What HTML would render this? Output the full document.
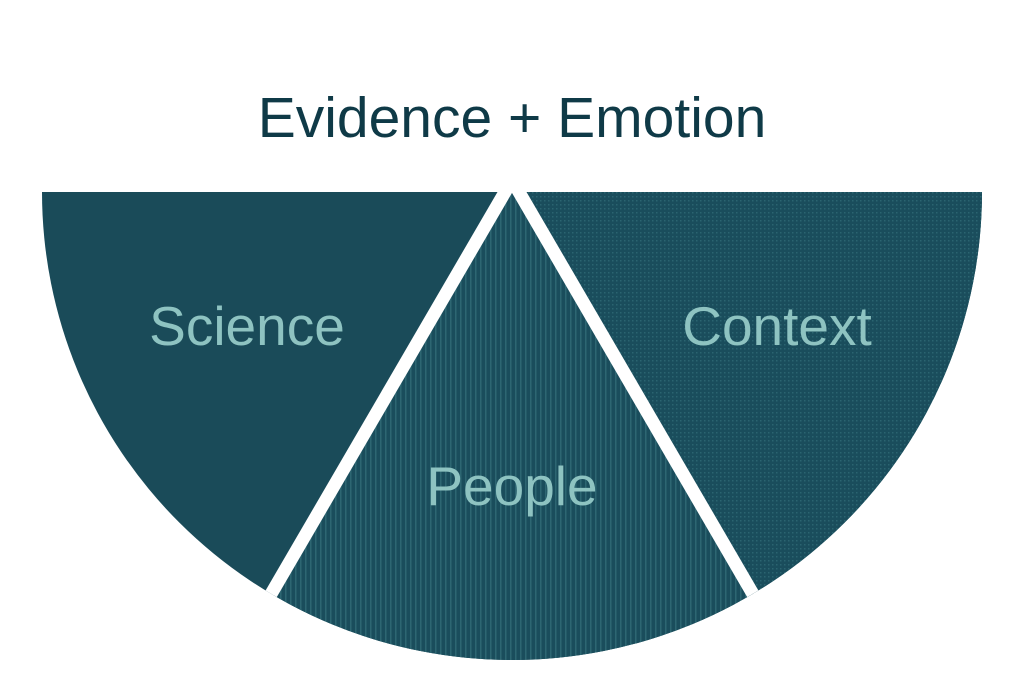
<!DOCTYPE html>
<html><head><meta charset="utf-8"><style>
html,body{margin:0;padding:0;background:#fff;width:1024px;height:700px;overflow:hidden}
</style></head><body>
<svg width="1024" height="700" viewBox="0 0 1024 700" xmlns="http://www.w3.org/2000/svg">
<defs>
<clipPath id="c"><path d="M42 192 H982 A470 468 0 0 1 42 192 Z"/></clipPath>
<pattern id="v" width="5" height="5" patternUnits="userSpaceOnUse"><rect width="5" height="5" fill="#1a4d5c"/><rect width="1.5" height="5" fill="#2d6672"/></pattern>
<pattern id="g" width="4" height="4" patternUnits="userSpaceOnUse"><rect width="4" height="4" fill="#1a4d5c"/><rect width="1.5" height="1.5" fill="#2b6470"/></pattern>
</defs>
<g clip-path="url(#c)">
<rect x="0" y="192" width="1024" height="500" fill="#1a4b59"/>
<path d="M512 192 L1100 192 L1100 720 L820 720 Z" fill="url(#g)"/>
<path d="M512 192 L200 720 L830 720 Z" fill="url(#v)"/>
<line x1="512" y1="180" x2="228" y2="668" stroke="#fff" stroke-width="13"/>
<line x1="512" y1="180" x2="796" y2="668" stroke="#fff" stroke-width="13"/>
</g>
<text x="512" y="137" text-anchor="middle" font-family="Liberation Sans, sans-serif" font-size="57" fill="#0f3a47">Evidence + Emotion</text>
<text x="247" y="345" text-anchor="middle" font-family="Liberation Sans, sans-serif" font-size="55" fill="#8ec3c1">Science</text>
<text x="777" y="345" text-anchor="middle" font-family="Liberation Sans, sans-serif" font-size="55" fill="#8ec3c1">Context</text>
<text x="512" y="505" text-anchor="middle" font-family="Liberation Sans, sans-serif" font-size="55" fill="#8ec3c1">People</text>
</svg>
</body></html>
